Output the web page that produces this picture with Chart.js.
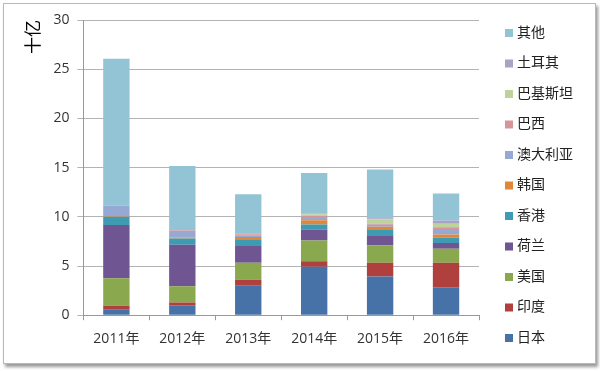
<!DOCTYPE html>
<html>
<head>
<meta charset="utf-8">
<script src="https://cdn.jsdelivr.net/npm/chart.js@4.4.1/dist/chart.umd.min.js"></script>
<style>
    html, body { margin: 0; padding: 0; background: #fff; }
    #wrap { position: relative; width: 600px; height: 371px; }
    #frame {
        position: absolute; left: 3px; top: 3px; width: 591px; height: 359px;
        border: 1px solid #b8b8b8; box-shadow: 2px 3px 3px #9a9a9a; background: #fff;
    }
    #chart { position: absolute; left: 0; top: 0; }
</style>
</head>
<body>
<div id="wrap">
    <div id="frame"></div>
    <canvas id="chart" width="600" height="371"></canvas>
</div>
<script>
// 单位：十亿
const years = ['2011年', '2012年', '2013年', '2014年', '2015年', '2016年'];

const japan     = [0.55, 1.02, 3.00, 4.93, 3.93, 2.84];
const india     = [0.41, 0.28, 0.60, 0.55, 1.40, 2.49];
const usa       = [2.80, 1.64, 1.73, 2.10, 1.77, 1.42];
const holland   = [5.40, 4.23, 1.71, 1.12, 1.03, 0.60];
const hongkong  = [0.84, 0.63, 0.61, 0.52, 0.52, 0.55];
const korea     = [0.05, 0.10, 0.30, 0.42, 0.33, 0.30];
const australia = [1.05, 0.65, 0.17, 0.33, 0.22, 0.45];
const brazil    = [0.00, 0.05, 0.10, 0.10, 0.10, 0.30];
const pakistan  = [0.00, 0.00, 0.05, 0.20, 0.45, 0.35];
const turkey    = [0.05, 0.05, 0.08, 0.05, 0.09, 0.30];
const others    = [14.90, 6.52, 3.95, 4.13, 4.96, 2.77];

const yTicks = [0, 5, 10, 15, 20, 25, 30];

const series = [
    ['日本', japan, '#4672a8'],
    ['印度', india, '#b0403d'],
    ['美国', usa, '#8aa84e'],
    ['荷兰', holland, '#6f5592'],
    ['香港', hongkong, '#3f9bb2'],
    ['韩国', korea, '#e1873a'],
    ['澳大利亚', australia, '#96a9d3'],
    ['巴西', brazil, '#d6959a'],
    ['巴基斯坦', pakistan, '#bdd39b'],
    ['土耳其', turkey, '#aca0c4'],
    ['其他', others, '#93c4d6']
];

const font = "'Open Sans', 'Noto Sans CJK SC', sans-serif";

// legend drawn in one column on the right, top item = last dataset
const sideLegend = {
    id: 'sideLegend',
    afterDraw(chart) {
        const ctx = chart.ctx;
        const sets = chart.data.datasets.slice().reverse();
        ctx.save();
        ctx.font = '14px ' + font;
        ctx.textBaseline = 'middle';
        sets.forEach((ds, i) => {
            const y = 33 + i * 30.5;
            ctx.fillStyle = ds.backgroundColor;
            ctx.fillRect(505, y - 4, 8, 8);
            ctx.fillStyle = '#222';
            ctx.fillText(ds.label, 517, y);
        });
        ctx.restore();
    }
};

new Chart(document.getElementById('chart'), {
    type: 'bar',
    data: {
        labels: years,
        datasets: series.map(([label, data, color]) => ({
            label: label,
            data: data,
            backgroundColor: color,
            borderWidth: 0,
            categoryPercentage: 1,
            barPercentage: 0.4
        }))
    },
    plugins: [sideLegend],
    options: {
        responsive: false,
        animation: false,
        layout: { padding: { left: 4, top: 20, right: 121, bottom: 14 } },
        plugins: {
            tooltip: { enabled: false },
            legend: { display: false }
        },
        scales: {
            x: {
                stacked: true,
                grid: {
                    drawOnChartArea: false,
                    drawTicks: true,
                    tickLength: 5,
                    color: '#999'
                },
                border: { color: '#999' },
                ticks: { color: '#333', padding: 10, font: { family: font, size: 14 } }
            },
            y: {
                stacked: true,
                min: 0,
                max: 30,
                afterBuildTicks: axis => { axis.ticks = yTicks.map(v => ({ value: v })); },
                grid: { color: '#b3b3b3', tickLength: 6 },
                border: { color: '#999' },
                ticks: { color: '#333', padding: 8, font: { family: font, size: 14 } },
                title: {
                    display: true,
                    text: '十亿',
                    align: 'end',
                    color: '#000',
                    padding: { top: 20, bottom: 1 },
                    font: { family: font, size: 17 }
                }
            }
        }
    }
});
</script>
</body>
</html>
